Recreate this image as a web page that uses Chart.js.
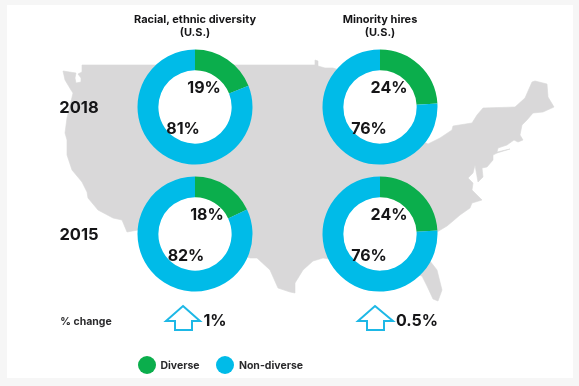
<!DOCTYPE html>
<html>
<head>
<meta charset="utf-8">
<title>Diversity</title>
<script src="https://cdn.jsdelivr.net/npm/chart.js@4"></script>
<style>
  html, body { margin: 0; padding: 0; background: #f6f6f6; }
  body { width: 579px; height: 386px; position: relative; overflow: hidden; font-family: Inter, sans-serif; color: #151517; filter: blur(0.35px); }
  #panel { position: absolute; left: 7px; top: 5px; width: 566px; height: 373px; background: #fff; }
  #map, #arrows { position: absolute; left: 0; top: 0; }
  canvas { position: absolute; }
  .t { position: absolute; white-space: nowrap; transform: translate(-50%, -50%); }
  .head { font-size: 11px; font-weight: 700; text-align: center; line-height: 13px; }
  .year { font-size: 16.5px; font-weight: 700; }
  .change { font-size: 16px; font-weight: 700; }
  .small { font-size: 10.5px; font-weight: 700; color: #2a2a2c; }
  .dot { position: absolute; width: 18px; height: 18px; border-radius: 50%; transform: translate(-50%, -50%); }
</style>
</head>
<body>
<div id="panel"></div>

<svg id="map" width="579" height="386">
  <path fill="#d9d8d9" stroke="#d9d8d9" stroke-width="0.6" stroke-linejoin="round" d="M82,65 L315,65 L315,60 L318,61 L318,66 L325,68 L333,68 L370,80 L420,140 L428,144 L440,138 L452,130 L453,126 L472,123 L477,115 L483,108 L515,107 L525,98 L532,82 L535,81 L547,84 L548,97 L554,107 L543,112 L533,113 L527,120 L522,125 L520,135 L523,140 L518,142 L514,140 L507,145 L498,148 L497,152 L510,149 L497,153 L493,155 L493,160 L487,167 L482,168 L483,177 L478,182 L475,165 L473,173 L468,178 L473,183 L472,190 L480,198 L482,200 L472,203 L470,208 L460,215 L453,221 L447,226 L437,232 L430,245 L430,261 L437,270 L442,290 L438,301 L433,299 L427,286 L422,276 L400,270 L323,258 L313,261 L303,270 L295,283 L295,293 L290,292 L278,288 L270,270 L257,258 L250,258 L200,240 L138,230 L127,232 L122,220 L113,218 L98,210 L88,198 L87,192 L82,182 L72,170 L67,155 L67,140 L65,133 L67,118 L73,93 L71,90 L65,80 L63,71 L76,73 L75,78 L76,83 L81,82 L81,78 L78,74 L82,72 Z"/>
</svg>

<svg id="arrows" width="579" height="386">
  <path fill="none" stroke="#1db8e6" stroke-width="2" d="M183,306 L200,321 L192,321 L192,330 L175,330 L175,321 L166,321 Z"/>
  <path fill="none" stroke="#1db8e6" stroke-width="2" d="M375,306 L393,321 L384,321 L384,330 L367,330 L367,321 L358,321 Z"/>
</svg>

<div class="t head" style="left:195px;top:26px">Racial, ethnic diversity<br>(U.S.)</div>
<div class="t head" style="left:380px;top:26px">Minority hires<br>(U.S.)</div>
<div class="t year" style="left:79px;top:107px" id="y0"></div>
<div class="t year" style="left:79px;top:234px" id="y1"></div>
<div class="t small" style="left:86px;top:321px">% change</div>
<div class="t change" style="left:215px;top:320px" id="c0"></div>
<div class="t change" style="left:417px;top:320px" id="c1"></div>
<div class="dot" style="left:147px;top:365px;background:#0bae4c"></div>
<div class="t small" style="left:180px;top:365px" id="l0"></div>
<div class="dot" style="left:225px;top:365px;background:#00bbe8"></div>
<div class="t small" style="left:271px;top:365px" id="l1"></div>

<script>
const categories = ['Diverse', 'Non-diverse'];
const years = ['2018', '2015'];
const racial2018 = [19, 81];
const minority2018 = [24, 76];
const racial2015 = [18, 82];
const minority2015 = [24, 76];
const percentChange = ['1%', '0.5%'];

const colors = ['#0bae4c', '#00bbe8'];

// one entry per doughnut: centre on the page, then where its two labels sit
const donuts = [
  { values: racial2018, x: 195, y: 107, offsets: [[9, -19], [-12, 22]] },
  { values: minority2018, x: 380, y: 107, offsets: [[9, -19], [-11, 22]] },
  { values: racial2015, x: 195, y: 234, offsets: [[12, -19], [-9, 22]] },
  { values: minority2015, x: 380, y: 234, offsets: [[9, -19], [-11, 22]] }
];

// hole is white, the map must not show through
const holePlugin = {
  id: 'hole',
  beforeDatasetsDraw(chart) {
    const arc = chart.getDatasetMeta(0).data[0];
    const ctx = chart.ctx;
    ctx.save();
    ctx.fillStyle = '#fff';
    ctx.beginPath();
    ctx.arc(arc.x, arc.y, arc.innerRadius + 0.5, 0, Math.PI * 2);
    ctx.fill();
    ctx.restore();
  }
};

const labelPlugin = {
  id: 'percentLabels',
  afterDatasetsDraw(chart, args, opts) {
    const arc = chart.getDatasetMeta(0).data[0];
    const ctx = chart.ctx;
    ctx.save();
    ctx.font = '700 16px Inter';
    ctx.fillStyle = '#151517';
    ctx.textAlign = 'center';
    ctx.textBaseline = 'middle';
    chart.data.datasets[0].data.forEach((v, i) => {
      ctx.fillText(v + '%', arc.x + opts.offsets[i][0], arc.y + opts.offsets[i][1]);
    });
    ctx.restore();
  }
};

const size = 124;
donuts.forEach((d) => {
  const canvas = document.createElement('canvas');
  canvas.style.left = (d.x - size / 2) + 'px';
  canvas.style.top = (d.y - size / 2) + 'px';
  canvas.style.width = size + 'px';
  canvas.style.height = size + 'px';
  canvas.width = size;
  canvas.height = size;
  document.body.insertBefore(canvas, document.getElementById('arrows'));

  new Chart(canvas.getContext('2d'), {
    type: 'doughnut',
    data: {
      labels: categories,
      datasets: [{
        data: d.values,
        backgroundColor: colors,
        borderWidth: 0
      }]
    },
    options: {
      responsive: false,
      animation: false,
      radius: 57.5,
      cutout: 39.5,
      plugins: {
        legend: { display: false },
        tooltip: { enabled: false },
        percentLabels: { offsets: d.offsets }
      }
    },
    plugins: [holePlugin, labelPlugin]
  });
});

years.forEach((y, i) => { document.getElementById('y' + i).textContent = y; });
percentChange.forEach((c, i) => { document.getElementById('c' + i).textContent = c; });
categories.forEach((c, i) => { document.getElementById('l' + i).textContent = c; });
</script>
</body>
</html>
